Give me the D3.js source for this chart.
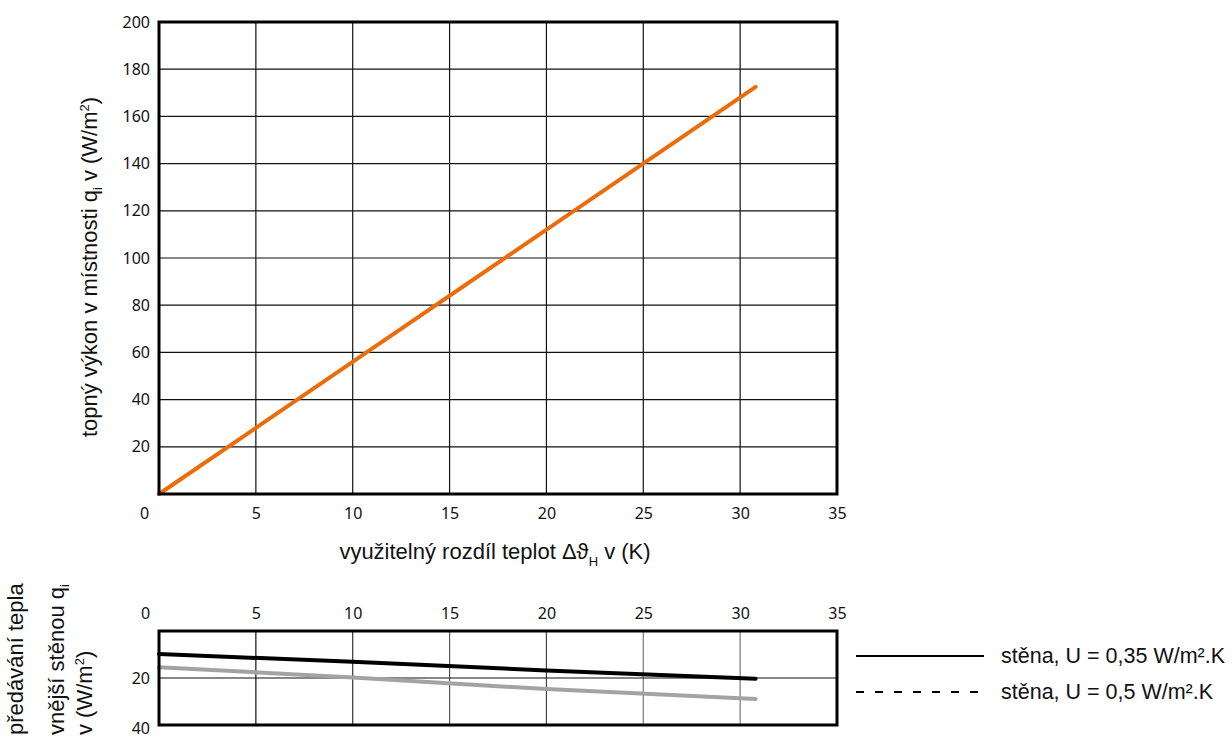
<!DOCTYPE html>
<html><head><meta charset="utf-8">
<script src="https://cdn.jsdelivr.net/npm/d3@7"></script>
<style>
body{margin:0;background:#fff;}
svg{display:block;}
.tick text{font-family:"Noto Sans",sans-serif;font-size:16px;fill:#111;}
.title{font-family:"Liberation Sans",Arial,sans-serif;font-size:22px;fill:#111;}
</style></head>
<body>
<script>
// ---- data ----
const xTicks = [0,5,10,15,20,25,30,35];
const yTicksTop = [20,40,60,80,100,120,140,160,180,200];
const yTicksBottom = [20,40];
const heatX = [0, 30.8];
const heatY = [0, 172.5];
const wallX = [0, 10, 20, 30.8];
const wall035 = [9.8, 13.1, 16.8, 20.3];
const wall05 = [15.4, 19.8, 24.7, 28.9];
const legendLabels = ["stěna, U = 0,35 W/m².K", "stěna, U = 0,5 W/m².K"];

const W = 1232, H = 737;
const svg = d3.select("body").append("svg").attr("width", W).attr("height", H);

const x = d3.scaleLinear().domain([0,35]).range([159,837]);
const yT = d3.scaleLinear().domain([0,200]).range([494,22]);
const yB = d3.scaleLinear().domain([0,40]).range([631,725]);

// ---- top chart ----
const gTop = svg.append("g");
gTop.append("g").selectAll("line").data(xTicks.filter(d=>d>0&&d<35)).join("line")
  .attr("x1", d=>x(d)).attr("x2", d=>x(d)).attr("y1", yT(0)).attr("y2", yT(200))
  .attr("stroke","#111").attr("stroke-width",1.2);
gTop.append("g").selectAll("line").data(yTicksTop.filter(d=>d<200)).join("line")
  .attr("x1", x(0)).attr("x2", x(35)).attr("y1", d=>yT(d)).attr("y2", d=>yT(d))
  .attr("stroke","#111").attr("stroke-width",1.2);
const xAxisTop = gTop.append("g").attr("transform",`translate(0,${yT(0)})`)
  .call(d3.axisBottom(x).tickValues(xTicks).tickSize(0).tickPadding(14).tickFormat(d3.format("d")));
xAxisTop.select(".domain").remove();
xAxisTop.selectAll(".tick").filter(d=>d===0).select("text").attr("dx",-15);
const yAxisTop = gTop.append("g").attr("transform",`translate(${x(0)},0)`)
  .call(d3.axisLeft(yT).tickValues(yTicksTop).tickSize(0).tickPadding(9).tickFormat(d3.format("d")));
yAxisTop.select(".domain").remove();
const lineT = d3.line().x((d,i)=>x(heatX[i])).y(d=>yT(d));
gTop.append("path").datum(heatY).attr("d", lineT).attr("fill","none")
  .attr("stroke","#ec6c0b").attr("stroke-width",4).attr("stroke-linecap","round");
gTop.append("rect").attr("x",x(0)).attr("y",yT(200)).attr("width",x(35)-x(0)).attr("height",yT(0)-yT(200))
  .attr("fill","none").attr("stroke","#000").attr("stroke-width",3);

// titles
const yt = svg.append("text").attr("class","title").attr("text-anchor","middle")
  .attr("transform",`translate(97,267) rotate(-90)`);
yt.append("tspan").text("topný výkon v místnosti q");
yt.append("tspan").text("i").attr("font-size",13).attr("dy",5);
yt.append("tspan").text(" v (W/m").attr("dy",-5);
yt.append("tspan").text("2").attr("font-size",13).attr("dy",-8);
yt.append("tspan").text(")").attr("dy",8);

const xt = svg.append("text").attr("class","title").attr("text-anchor","middle")
  .attr("x",495).attr("y",559);
xt.append("tspan").text("využitelný rozdíl teplot Δϑ");
xt.append("tspan").text("H").attr("font-size",13).attr("dy",7);
xt.append("tspan").text(" v (K)").attr("dy",-7);

// ---- bottom chart ----
const gBot = svg.append("g");
const gridColors = ["#111","#333","#555","#444","#777","#777"];
gBot.append("g").selectAll("line").data(xTicks.filter(d=>d>0&&d<35)).join("line")
  .attr("x1", d=>x(d)).attr("x2", d=>x(d)).attr("y1", yB(0)).attr("y2", yB(40))
  .attr("stroke",(d,i)=>gridColors[i]).attr("stroke-width",1.2);
gBot.append("line").attr("x1",x(0)).attr("x2",x(35)).attr("y1",yB(20)).attr("y2",yB(20))
  .attr("stroke","#111").attr("stroke-width",1.2);
const xAxisB = gBot.append("g").attr("transform",`translate(0,${yB(0)})`)
  .call(d3.axisTop(x).tickValues(xTicks).tickSize(0).tickPadding(12).tickFormat(d3.format("d")));
xAxisB.select(".domain").remove();
xAxisB.selectAll(".tick").filter(d=>d===0).select("text").attr("dx",-14);
const yAxisB = gBot.append("g").attr("transform",`translate(${x(0)},0)`)
  .call(d3.axisLeft(yB).tickValues(yTicksBottom).tickSize(0).tickPadding(9).tickFormat(d3.format("d")));
yAxisB.select(".domain").remove();
yAxisB.selectAll(".tick").filter(d=>d===40).select("text").attr("dy","0.5em");

const lineB = d3.line().x((d,i)=>x(wallX[i])).y(d=>yB(d));
gBot.append("path").datum(wall05).attr("d",lineB).attr("fill","none")
  .attr("stroke","#a3a3a3").attr("stroke-width",4).attr("stroke-linecap","round");
gBot.append("path").datum(wall035).attr("d",lineB).attr("fill","none")
  .attr("stroke","#000").attr("stroke-width",4).attr("stroke-linecap","round");
gBot.append("rect").attr("x",x(0)).attr("y",yB(0)).attr("width",x(35)-x(0)).attr("height",yB(40)-yB(0))
  .attr("fill","none").attr("stroke","#000").attr("stroke-width",3);

const bLines = [
  {x:23, parts:[["předávání tepla",0,null]]},
  {x:64, parts:[["vnější stěnou q",0,null],["i",5,13]]},
  {x:92, parts:[["v (W/m",0,null],["2",-8,13],[")",8,null]]}
];
bLines.forEach(l=>{
  const t = svg.append("text").attr("class","title").attr("text-anchor","start")
    .attr("transform",`translate(${l.x},735) rotate(-90)`);
  l.parts.forEach(p=>{
    const s = t.append("tspan").text(p[0]);
    if(p[1]) s.attr("dy",p[1]);
    if(p[2]) s.attr("font-size",p[2]);
  });
});

// legend
const lg = svg.append("g");
lg.append("line").attr("x1",856).attr("x2",984).attr("y1",656).attr("y2",656)
  .attr("stroke","#000").attr("stroke-width",2);
lg.append("line").attr("x1",856).attr("x2",984).attr("y1",692).attr("y2",692)
  .attr("stroke","#000").attr("stroke-width",2).attr("stroke-dasharray","8,11");
lg.selectAll("text.lt").data(legendLabels).join("text").attr("class","title lt")
  .attr("x",1001).attr("y",(d,i)=>663+i*36).style("font-size","21.5px").text(d=>d);
</script>
</body></html>
